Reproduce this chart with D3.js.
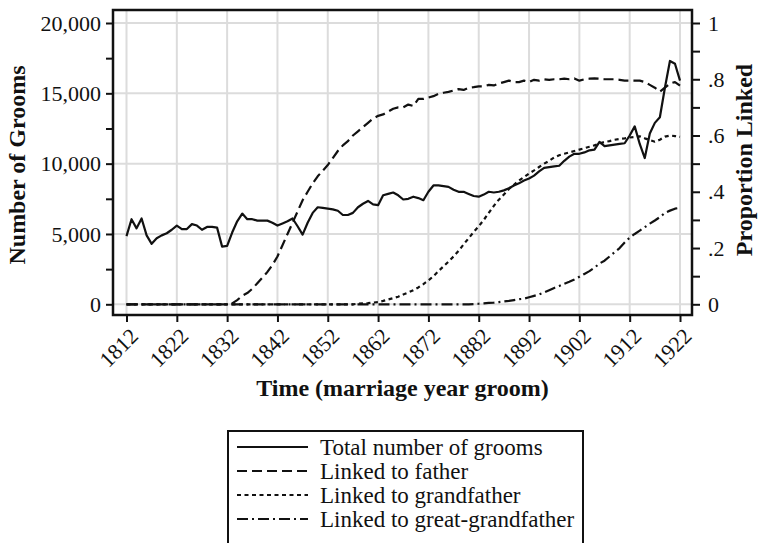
<!DOCTYPE html>
<html>
<head>
<meta charset="utf-8">
<script src="https://cdn.jsdelivr.net/npm/d3@7"></script>
<style>
  body { margin: 0; background: #fff; }
  svg text { font-family: "Liberation Serif", "Times New Roman", serif; fill: #111; }
</style>
</head>
<body>
<svg id="chart" width="760" height="543"></svg>
<script>
// one value per marriage year, starting at 1812
var startYear = 1812;
var yearTicks = [1812, 1822, 1832, 1842, 1852, 1862, 1872, 1882, 1892, 1902, 1912, 1922];
var countTicks = [0, 5000, 10000, 15000, 20000];
var countMinor = [2500, 7500, 12500, 17500];
var propTicks = [0, 0.1, 0.2, 0.3, 0.4, 0.5, 0.6, 0.7, 0.8, 0.9, 1];
var propLabels = {0: "0", 0.2: ".2", 0.4: ".4", 0.6: ".6", 0.8: ".8", 1: "1"};

var totalGrooms = [
  4850, 6050, 5400, 6100, 4900, 4300, 4700, 4900, 5050, 5300,       // 1812-1821
  5600, 5350, 5350, 5700, 5600, 5300, 5500, 5500, 5450, 4100,       // 1822-1831
  4150, 5100, 5900, 6450, 6050, 6050, 5950, 5950, 5950, 5800,       // 1832-1841
  5600, 5750, 5900, 6100, 5550, 4950, 5800, 6500, 6900, 6850,       // 1842-1851
  6800, 6750, 6650, 6350, 6350, 6500, 6900, 7150, 7350, 7100,       // 1852-1861
  7050, 7750, 7850, 7950, 7750, 7450, 7500, 7650, 7550, 7400,       // 1862-1871
  8000, 8450, 8450, 8400, 8350, 8150, 8000, 8000, 7850, 7700,       // 1872-1881
  7650, 7800, 8000, 7950, 8000, 8100, 8250, 8450, 8600, 8800,       // 1882-1891
  8950, 9150, 9450, 9700, 9750, 9800, 9850, 10200, 10500, 10700,   // 1892-1901
  10700, 10800, 10950, 11000, 11550, 11250, 11300, 11350, 11400, 11450, // 1902-1911
  12000, 12650, 11400, 10400, 12150, 12900, 13300, 15400, 17300, 17100, // 1912-1921
  15900                                                              // 1922
];

var linkedFather = [
  0, 0, 0, 0, 0, 0, 0, 0, 0, 0,
  0, 0, 0, 0, 0, 0, 0, 0, 0, 0,
  0, .003, .015, .03, .04, .055, .075, .095, .115, .14,
  .17, .21, .25, .29, .33, .37, .40, .43, .455, .475,
  .495, .52, .545, .565, .58, .60, .615, .63, .645, .66,
  .67, .675, .685, .695, .70, .70, .71, .705, .73, .73,
  .735, .74, .748, .752, .755, .76, .765, .762, .77, .772,
  .775, .775, .78, .778, .785, .79, .795, .79, .79, .795,
  .79, .798, .795, .80, .798, .80, .80, .802, .80, .803,
  .795, .80, .802, .803, .802, .80, .80, .80, .798, .795,
  .795, .795, .795, .79, .78, .77, .756, .77, .785, .79,
  .777
];

var linkedGrandfather = [
  0, 0, 0, 0, 0, 0, 0, 0, 0, 0,
  0, 0, 0, 0, 0, 0, 0, 0, 0, 0,
  0, 0, 0, 0, 0, 0, 0, 0, 0, 0,
  0, 0, 0, 0, 0, 0, 0, 0, 0, 0,
  0, 0, 0, 0, 0, 0, .002, .003, .004, .006,
  .008, .012, .017, .022, .027, .035, .042, .05, .06, .072,
  .085, .10, .118, .135, .152, .17, .19, .213, .235, .257,
  .277, .30, .325, .35, .372, .39, .41, .425, .44, .452,
  .465, .476, .488, .50, .51, .522, .53, .535, .54, .545,
  .55, .555, .56, .565, .572, .577, .58, .585, .588, .59,
  .593, .595, .597, .59, .584, .578, .585, .596, .60, .598,
  .595
];

var linkedGreatGrandfather = [
  0, 0, 0, 0, 0, 0, 0, 0, 0, 0,
  0, 0, 0, 0, 0, 0, 0, 0, 0, 0,
  0, 0, 0, 0, 0, 0, 0, 0, 0, 0,
  0, 0, 0, 0, 0, 0, 0, 0, 0, 0,
  0, 0, 0, 0, 0, 0, 0, 0, 0, 0,
  0, 0, 0, 0, 0, 0, 0, 0, 0, 0,
  0, 0, 0, 0, 0, 0, 0, 0, 0, .001,
  .002, .003, .005, .006, .008, .01, .012, .015, .018, .02,
  .025, .03, .035, .042, .05, .058, .065, .073, .08, .088,
  .098, .108, .118, .13, .145, .155, .17, .185, .20, .22,
  .237, .25, .262, .274, .287, .298, .31, .325, .333, .34,
  .343
];

var legendLabels = ["Total number of grooms", "Linked to father", "Linked to grandfather", "Linked to great-grandfather"];

var frame = { left: 113, right: 692, top: 10, bottom: 315 };

var svg = d3.select("#chart");

var x = d3.scaleLinear().domain([1812, 1922]).range([126.5, 680]);
var yCount = d3.scaleLinear().domain([0, 20000]).range([304.3, 23]);
var yProp = d3.scaleLinear().domain([0, 1]).range([304.3, 23]);

// grid
svg.append("g").selectAll("line").data(yearTicks).enter().append("line")
  .attr("x1", function (d) { return x(d); })
  .attr("x2", function (d) { return x(d); })
  .attr("y1", frame.top).attr("y2", frame.bottom)
  .attr("stroke", "#dcdcdc").attr("stroke-width", 2);

svg.append("g").selectAll("line").data(countTicks).enter().append("line")
  .attr("x1", frame.left).attr("x2", frame.right)
  .attr("y1", function (d) { return yCount(d); })
  .attr("y2", function (d) { return yCount(d); })
  .attr("stroke", "#dcdcdc").attr("stroke-width", 2);

// series
function yearOf(i) { return startYear + i; }

var countLine = d3.line()
  .x(function (d, i) { return x(yearOf(i)); })
  .y(function (d) { return yCount(d); });

var propLine = d3.line()
  .x(function (d, i) { return x(yearOf(i)); })
  .y(function (d) { return yProp(d); });

var series = [
  { values: linkedGreatGrandfather, line: propLine, dash: "11,4,2,4" },
  { values: linkedGrandfather, line: propLine, dash: "4,3.5" },
  { values: linkedFather, line: propLine, dash: "10,5" },
  { values: totalGrooms, line: countLine, dash: null }
];

series.forEach(function (s) {
  svg.append("path")
    .attr("d", s.line(s.values))
    .attr("fill", "none")
    .attr("stroke", "#111")
    .attr("stroke-width", 2.2)
    .attr("stroke-linejoin", "round")
    .attr("stroke-dasharray", s.dash);
});

// frame
svg.append("rect")
  .attr("x", frame.left).attr("y", frame.top)
  .attr("width", frame.right - frame.left)
  .attr("height", frame.bottom - frame.top)
  .attr("fill", "none").attr("stroke", "#111").attr("stroke-width", 2.5);

function styleAxis(g) {
  g.select(".domain").remove();
  g.selectAll(".tick line").attr("stroke", "#111").attr("stroke-width", 2);
  g.selectAll("text").style("font-size", "22px").attr("fill", "#111");
}

// left axis
svg.append("g")
  .attr("transform", "translate(" + frame.left + ",0)")
  .call(d3.axisLeft(yCount).tickValues(countTicks).tickSize(7).tickPadding(5).tickFormat(d3.format(",")))
  .call(styleAxis);

svg.append("g")
  .attr("transform", "translate(" + frame.left + ",0)")
  .call(d3.axisLeft(yCount).tickValues(countMinor).tickSize(7).tickFormat(""))
  .call(styleAxis);

// right axis
svg.append("g")
  .attr("transform", "translate(" + frame.right + ",0)")
  .call(d3.axisRight(yProp).tickValues(propTicks).tickSize(8).tickPadding(8)
    .tickFormat(function (d) { return propLabels[d] || ""; }))
  .call(styleAxis);

// bottom axis with slanted years
var xAxis = svg.append("g")
  .attr("transform", "translate(0," + frame.bottom + ")")
  .call(d3.axisBottom(x).tickValues(yearTicks).tickSize(7).tickFormat(d3.format("d")))
  .call(styleAxis);

xAxis.selectAll("text")
  .attr("text-anchor", "end")
  .attr("x", -7).attr("y", 17).attr("dy", "0.35em")
  .attr("transform", "rotate(-45)");

// axis titles
svg.append("text")
  .attr("x", (frame.left + frame.right) / 2).attr("y", 396)
  .attr("text-anchor", "middle")
  .style("font-size", "24px").style("font-weight", "bold")
  .text("Time (marriage year groom)");

svg.append("text")
  .attr("transform", "translate(25,165) rotate(-90)")
  .attr("text-anchor", "middle")
  .style("font-size", "24px").style("font-weight", "bold")
  .text("Number of Grooms");

svg.append("text")
  .attr("transform", "translate(752,160) rotate(-90)")
  .attr("text-anchor", "middle")
  .style("font-size", "24px").style("font-weight", "bold")
  .text("Proportion Linked");

// legend
var legend = svg.append("g");
legend.append("rect")
  .attr("x", 228).attr("y", 431).attr("width", 355).attr("height", 130)
  .attr("fill", "#fff").attr("stroke", "#111").attr("stroke-width", 2);

var legendDash = [null, "10,5", "4,3.5", "11,4,2,4"];

var rows = legend.selectAll("g.row").data(legendLabels).enter().append("g")
  .attr("class", "row")
  .attr("transform", function (d, i) { return "translate(0," + (447 + i * 24) + ")"; });

rows.append("line")
  .attr("x1", 237).attr("x2", 308)
  .attr("stroke", "#111").attr("stroke-width", 2.2)
  .attr("stroke-dasharray", function (d, i) { return legendDash[i]; });

rows.append("text")
  .attr("x", 320).attr("dy", "0.35em")
  .style("font-size", "23px")
  .text(function (d) { return d; });
</script>
</body>
</html>
